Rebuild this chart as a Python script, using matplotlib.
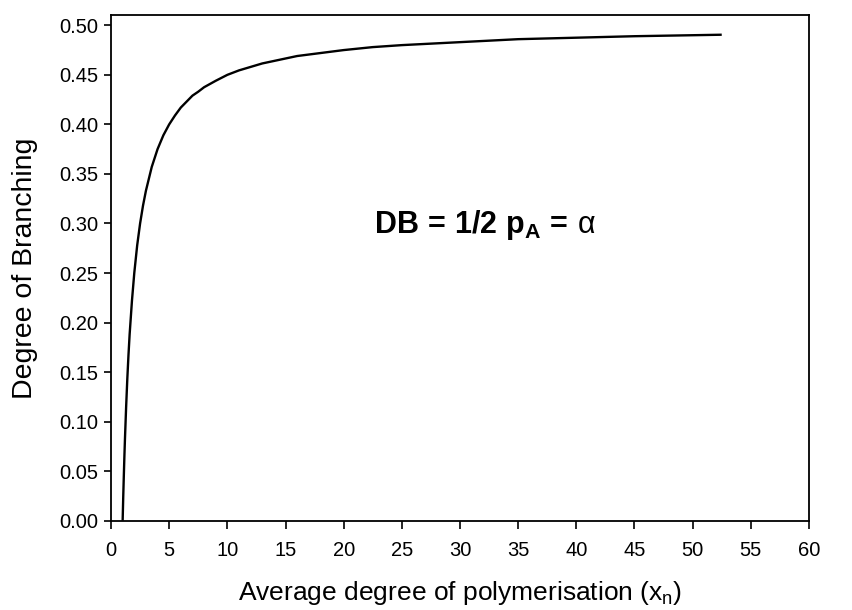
import matplotlib
matplotlib.use("Agg")
import matplotlib.pyplot as plt

plt.rcParams['font.family'] = ['Liberation Sans', 'DejaVu Sans']
plt.rcParams['mathtext.fontset'] = 'custom'
plt.rcParams['mathtext.rm'] = 'Liberation Sans'
plt.rcParams['mathtext.it'] = 'Liberation Sans'
plt.rcParams['mathtext.bf'] = 'Liberation Sans:bold'

# Degree of branching vs. average degree of polymerisation
xn = [1.0, 1.05, 1.1, 1.15, 1.2, 1.3, 1.4, 1.5, 1.6, 1.8, 2.0, 2.25, 2.5, 2.75,
      3.0, 3.5, 4.0, 4.5, 5.0, 5.5, 6.0, 6.5, 7.0, 7.5, 8.0, 9.0, 10.0, 11.0,
      12.0, 13.0, 14.0, 16.0, 18.0, 20.0, 22.5, 25.0, 30.0, 35.0, 40.0, 45.0,
      50.0, 52.5]
db = [0.000, 0.024, 0.045, 0.065, 0.083, 0.115, 0.143, 0.167, 0.188, 0.222,
      0.250, 0.278, 0.300, 0.318, 0.333, 0.357, 0.375, 0.389, 0.400, 0.409,
      0.417, 0.423, 0.429, 0.433, 0.4375, 0.444, 0.450, 0.4545, 0.458, 0.4615,
      0.464, 0.469, 0.472, 0.475, 0.478, 0.480, 0.483, 0.486, 0.4875, 0.489,
      0.490, 0.4905]

x_ticks = list(range(0, 61, 5))
y_ticks = [0.00, 0.05, 0.10, 0.15, 0.20, 0.25, 0.30, 0.35, 0.40, 0.45, 0.50]

fig = plt.figure(figsize=(8.52, 6.10), dpi=100)
ax = fig.add_axes([0.1303, 0.1464, 0.8192, 0.8290])

ax.plot(xn, db, color='black', lw=1.7, solid_capstyle='butt')

ax.set_xlim(0, 60)
ax.set_ylim(0, 0.5104)
ax.set_xticks(x_ticks)
ax.set_xticklabels([str(t) for t in x_ticks])
ax.set_yticks(y_ticks)
ax.set_yticklabels([f"{t:.2f}" for t in y_ticks])

ax.tick_params(axis='both', direction='out', width=1.2,
               labelsize=14.5, top=False, right=False)
ax.tick_params(axis='y', length=4.8, pad=4.5)
ax.tick_params(axis='x', length=6, pad=8.5)
for s in ax.spines.values():
    s.set_linewidth(1.3)

ax.set_ylabel('Degree of Branching', fontsize=20.5, labelpad=15)
ax.set_xlabel(r'Average degree of polymerisation (x$_\mathregular{n}$)',
              fontsize=19, labelpad=14)

ax.text(32.1, 0.290, r'$\mathbf{DB\,=\,1/2\ p_A\,=}\,\alpha$',
        fontsize=22, ha='center', va='baseline')

fig.savefig('out.png', dpi=100)
